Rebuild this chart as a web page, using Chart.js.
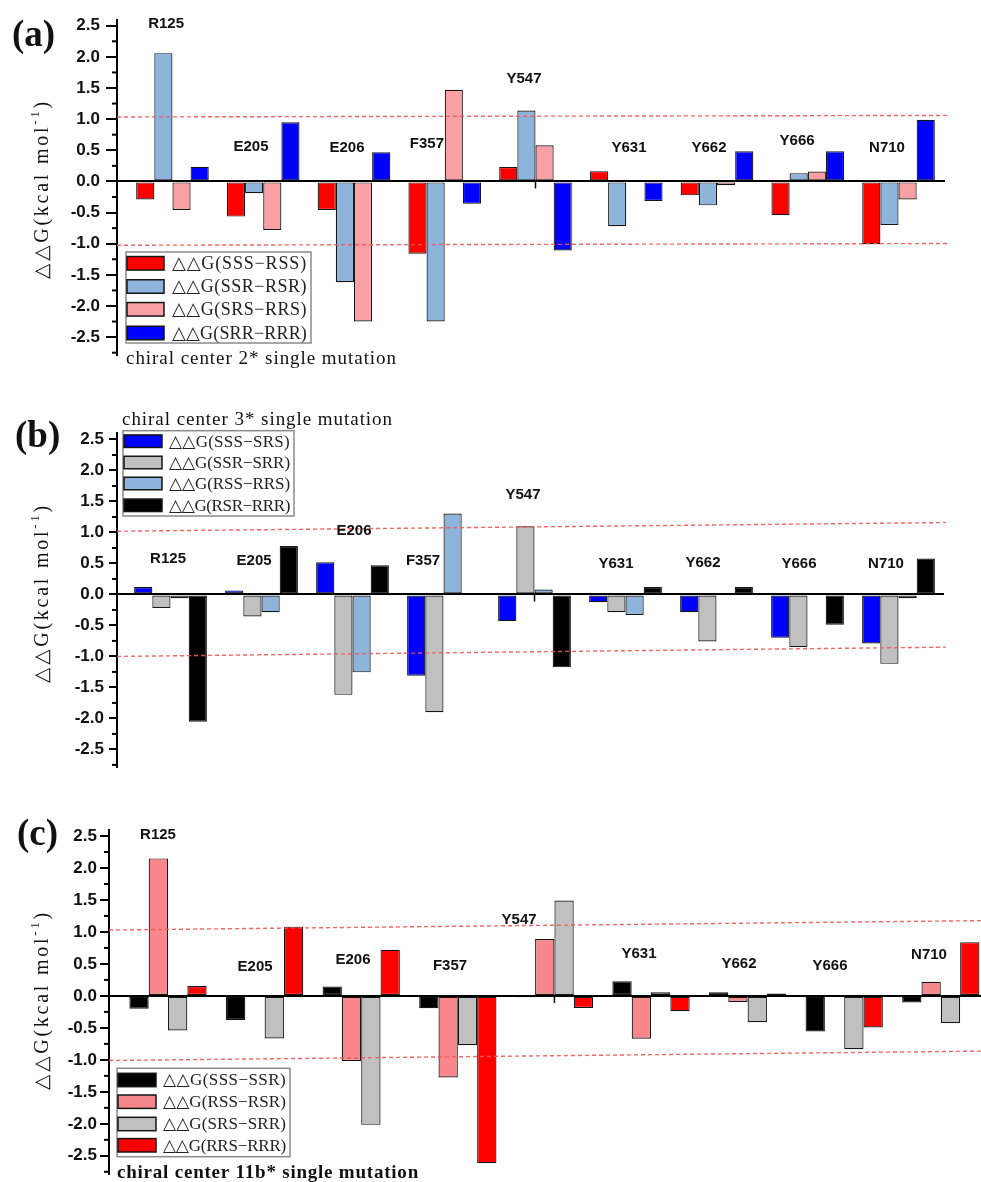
<!DOCTYPE html>
<html><head><meta charset="utf-8">
<script src="https://cdn.jsdelivr.net/npm/chart.js@4/dist/chart.umd.min.js"></script>
<style>
html,body{margin:0;padding:0;width:981px;height:1182px;overflow:hidden;background:#fff;}
canvas{position:absolute;left:0;}
</style></head><body>
<canvas id="ca" width="981" height="372" style="top:0px"></canvas>
<canvas id="cb" width="981" height="420" style="top:370px"></canvas>
<canvas id="cc" width="1000" height="420" style="top:770px"></canvas>
<script>
// ---------- data ----------
const residues = ['R125','E205','E206','F357','Y547','Y631','Y662','Y666','N710'];
const yTicks = [-2.5,-2.0,-1.5,-1.0,-0.5,0.0,0.5,1.0,1.5,2.0,2.5];

// panel (a): chiral center 2*
const namesA = ['△△G(SSS−RSS)','△△G(SSR−RSR)','△△G(SRS−RRS)','△△G(SRR−RRR)'];
const a_SSS_RSS = [-0.29, -0.565, -0.46, -1.16, 0.23, 0.165, -0.224, -0.544, -1.01];
const a_SSR_RSR = [2.06, -0.19, -1.62, -2.25, 1.14, -0.72, -0.384, 0.133, -0.70];
const a_SRS_RRS = [-0.46, -0.78, -2.25, 1.47, 0.58, 0.0, -0.06, 0.16, -0.29];
const a_SRR_RRR = [0.235, 0.95, 0.47, -0.36, -1.11, -0.315, 0.485, 0.485, 0.99];
const a_thresholds = [[1.035, 1.06], [-1.025, -0.997]];
const a_labelY = [2.53, 0.56, 0.54, 0.61, 1.65, 0.545, 0.545, 0.655, 0.545];
const a_labelDx = [-0.07, -0.135, -0.077, -0.196, -0.127, 0.03, -0.088, -0.118, -0.127];

// panel (b): chiral center 3*
const namesB = ['△△G(SSS−SRS)','△△G(SSR−SRR)','△△G(RSS−RRS)','△△G(RSR−RRR)'];
const b_SSS_SRS = [0.12, 0.065, 0.52, -1.31, -0.43, -0.124, -0.286, -0.70, -0.79];
const b_SSR_SRR = [-0.22, -0.356, -1.62, -1.90, 1.10, -0.286, -0.76, -0.85, -1.12];
const b_RSS_RRS = [-0.06, -0.286, -1.257, 1.306, 0.08, -0.33, 0.0, 0.0, -0.06];
const b_RSR_RRR = [-2.055, 0.78, 0.47, 0.0, -1.176, 0.12, 0.12, -0.49, 0.58];
const b_thresholds = [[1.02, 1.16], [-1.0, -0.85]];
const b_labelY = [0.58, 0.54, 1.02, 0.55, 1.6, 0.5, 0.51, 0.5, 0.5];
const b_labelDx = [-0.027, -0.082, 0.016, -0.225, -0.126, -0.104, -0.148, -0.093, -0.137];

// panel (c): chiral center 11b*
const namesC = ['△△G(SSS−SSR)','△△G(RSS−RSR)','△△G(SRS−SRR)','△△G(RRS−RRR)'];
const c_SSS_SSR = [-0.2, -0.375, 0.146, -0.193, -0.02, 0.23, 0.057, -0.557, -0.104];
const c_RSS_RSR = [2.15, 0.0, -1.016, -1.276, 0.89, -0.67, -0.094, 0.0, 0.22];
const c_SRS_SRR = [-0.54, -0.667, -2.016, -0.77, 1.49, 0.057, -0.41, -0.833, -0.427];
const c_RRS_RRR = [0.156, 1.083, 0.72, -2.615, -0.1875, -0.24, 0.036, -0.495, 0.84];
const c_thresholds = [[1.03, 1.18], [-1.01, -0.86]];
const c_labelY = [2.52, 0.46, 0.57, 0.47, 1.19, 0.65, 0.495, 0.47, 0.635];
const c_labelDx = [-0.104, -0.099, -0.085, -0.081, -0.366, -0.124, -0.089, -0.147, -0.122];

const yTitleMain = '△△G(kcal mol';
const yTitleSup = '-1';
const yTitleEnd = ')';

// ---------- styles ----------
const RED = '#FF0000', LBLUE = '#8FB4DC', PINK_A = '#F9A0A4', BLUE = '#0000FF',
      GRAY = '#C0C0C0', BLACK = '#000000', PINK_C = '#F7878B';
const SERIF = '"Liberation Serif","DejaVu Sans",serif';
const SANS = '"Liberation Sans",Arial,sans-serif';

function drawFit(ctx, text, x, y, target, font, color) {
  ctx.save();
  ctx.font = font;
  ctx.letterSpacing = '0px';
  const w = ctx.measureText(text).width;
  const n = [...text].length;
  const sp = Math.max(-1, (target - w) / n);
  ctx.letterSpacing = sp.toFixed(2) + 'px';
  ctx.textAlign = 'left'; ctx.textBaseline = 'middle';
  ctx.fillStyle = color || '#111';
  ctx.fillText(text, x, y);
  ctx.restore();
}

function drawYTitle(ctx, cx, cy, len) {
  ctx.save();
  ctx.translate(cx, cy); ctx.rotate(-Math.PI / 2);
  const fMain = '20px ' + SERIF, fSup = '13px ' + SERIF;
  const parts = [[yTitleMain, fMain, 0], [yTitleSup, fSup, -7], [yTitleEnd, fMain, 0]];
  ctx.letterSpacing = '0px';
  let w = 0, n = 0;
  parts.forEach(p => { ctx.font = p[1]; p.push(ctx.measureText(p[0]).width); w += p[3]; n += [...p[0]].length; });
  const sp = (len - w) / n;
  ctx.letterSpacing = sp.toFixed(2) + 'px';
  ctx.textAlign = 'left'; ctx.textBaseline = 'middle'; ctx.fillStyle = '#111';
  let xx = -len / 2;
  parts.forEach(p => { ctx.font = p[1]; ctx.fillText(p[0], xx, p[2]); xx += p[3] + sp * [...p[0]].length; });
  ctx.restore();
}

function makePlugin(o) {
  return {
    id: 'annot' + o.id,
    afterDatasetsDraw(chart) {
      const {ctx, chartArea, scales: {x, y}} = chart;
      // dashed reference lines
      ctx.save();
      ctx.strokeStyle = 'rgba(240,85,85,0.9)'; ctx.lineWidth = 1.4; ctx.setLineDash([4, 3]);
      o.thresholds.forEach(([v0, v1]) => {
        ctx.beginPath();
        ctx.moveTo(chartArea.left, y.getPixelForValue(v0));
        ctx.lineTo(chartArea.right + o.dashExtra, y.getPixelForValue(v1));
        ctx.stroke();
      });
      ctx.restore();
      // small tick on zero line
      ctx.save();
      ctx.strokeStyle = '#000'; ctx.lineWidth = 1.5;
      const tx = x.getPixelForValue(4), ty = y.getPixelForValue(0);
      ctx.beginPath(); ctx.moveTo(tx, ty); ctx.lineTo(tx, ty + 7); ctx.stroke();
      ctx.restore();
    },
    afterDraw(chart) {
      const {ctx, chartArea, scales: {x, y}} = chart;
      // minor ticks
      ctx.save();
      ctx.strokeStyle = '#000'; ctx.lineWidth = 2;
      const minor = [yTicks[0] - 0.25].concat(yTicks.slice(0, -1).map((v, i) => (v + yTicks[i + 1]) / 2));
      minor.forEach(v => {
        if (v < y.min || v > y.max) return;
        const py = y.getPixelForValue(v);
        ctx.beginPath(); ctx.moveTo(chartArea.left - 5, py); ctx.lineTo(chartArea.left, py); ctx.stroke();
      });
      ctx.restore();
      // category labels
      ctx.save();
      ctx.font = 'bold 15px ' + SANS; ctx.fillStyle = '#111';
      ctx.textAlign = 'center'; ctx.textBaseline = 'middle';
      residues.forEach((r, i) => {
        ctx.fillText(r, x.getPixelForValue(i + o.labelDx[i]), y.getPixelForValue(o.labelY[i]));
      });
      ctx.restore();
      // legend
      const L = o.legend;
      ctx.save();
      ctx.fillStyle = '#fff';
      ctx.fillRect(L.box[0], L.box[1], L.box[2] - L.box[0], L.box[3] - L.box[1]);
      ctx.strokeStyle = '#8a8a8a'; ctx.lineWidth = 1.5;
      ctx.strokeRect(L.box[0], L.box[1], L.box[2] - L.box[0], L.box[3] - L.box[1]);
      chart.data.datasets.forEach((ds, i) => {
        const cy = L.rows[i];
        ctx.fillStyle = ds.backgroundColor;
        ctx.fillRect(L.sx[0], cy - L.sh / 2, L.sx[1] - L.sx[0], L.sh);
        ctx.strokeStyle = '#151515'; ctx.lineWidth = 1.5;
        ctx.strokeRect(L.sx[0], cy - L.sh / 2, L.sx[1] - L.sx[0], L.sh);
        drawFit(ctx, ds.label, L.tx, cy + 1, L.tw, L.font, '#222');
      });
      ctx.restore();
      // sub title
      const T = o.title;
      drawFit(ctx, T.text, T.x, T.y, T.w, (T.bold ? 'bold ' : '') + '19px ' + SERIF, '#111');
      // y title
      drawYTitle(ctx, o.yTitle.cx, o.yTitle.cy, o.yTitle.len);
      // panel letter
      ctx.save();
      ctx.font = 'bold 37px ' + SERIF; ctx.fillStyle = '#111';
      ctx.textAlign = 'left'; ctx.textBaseline = 'alphabetic';
      ctx.fillText(o.panel.text, o.panel.x, o.panel.y);
      ctx.restore();
    }
  };
}

function build(canvasId, o) {
  return new Chart(document.getElementById(canvasId), {
    type: 'bar',
    data: {
      labels: residues.map((_, i) => i),
      datasets: o.series.map((s, i) => ({
        label: o.names[i], data: s, backgroundColor: o.colors[i],
        borderColor: '#151515', borderWidth: 1.2, borderSkipped: false,
        categoryPercentage: 0.8, barPercentage: 1.0, inflateAmount: 0
      }))
    },
    options: {
      responsive: false, animation: false, devicePixelRatio: 1, events: [],
      layout: {padding: o.padding},
      plugins: {legend: {display: false}, tooltip: {enabled: false}, title: {display: false}},
      scales: {
        x: {
          type: 'linear', min: o.xMin, max: o.xMax, display: false,
          offset: false, grid: {offset: false},
          ticks: {stepSize: 1, includeBounds: false},
          afterBuildTicks: s => { s.ticks = residues.map((_, i) => ({value: i})); }
        },
        y: {
          min: -2.8, max: 2.6,
          afterBuildTicks: s => { s.ticks = yTicks.map(v => ({value: v})); },
          afterFit: s => { s.width = o.axisX; },
          ticks: {
            autoSkip: false, padding: o.tickPad, color: '#111',
            font: {family: SANS, weight: 'bold', size: 17},
            callback: v => Number(v).toFixed(1)
          },
          grid: {
            drawOnChartArea: true, drawTicks: true, tickLength: o.tickLen,
            color: c => (c.tick && c.tick.value === 0) ? '#000' : 'rgba(0,0,0,0)',
            lineWidth: c => (c.tick && c.tick.value === 0) ? 2 : 0,
            tickColor: '#000', tickWidth: 2
          },
          border: {display: true, color: '#000', width: 2}
        }
      }
    },
    plugins: [makePlugin(o)]
  });
}

build('ca', {
  id: 'a', names: namesA, series: [a_SSS_RSS, a_SSR_RSR, a_SRS_RRS, a_SRR_RRR],
  colors: [RED, LBLUE, PINK_A, BLUE],
  padding: {left: 0, top: 19.5, right: 36, bottom: 15},
  axisX: 117, xMin: -0.611, xMax: 8.512, tickLen: 11, tickPad: 6, dashExtra: 5,
  thresholds: a_thresholds, labelY: a_labelY, labelDx: a_labelDx,
  legend: {box: [126, 252, 311, 343], sx: [127, 164], sh: 13.5, rows: [263.3, 286.5, 309.3, 333], tx: 172, tw: 135, font: '18px ' + SERIF},
  title: {text: 'chiral center 2* single mutation', x: 126, y: 359, w: 271, bold: false},
  yTitle: {cx: 43, cy: 189, len: 180},
  panel: {text: '(a)', x: 12, y: 45.5}
});

build('cb', {
  id: 'b', names: namesB, series: [b_SSS_SRS, b_SSR_SRR, b_RSS_RRS, b_RSR_RRR],
  colors: [BLUE, GRAY, LBLUE, BLACK],
  padding: {left: 0, top: 63.3, right: 37, bottom: 22},
  axisX: 117, xMin: -0.588, xMax: 8.5, tickLen: 8, tickPad: 5, dashExtra: 2,
  thresholds: b_thresholds, labelY: b_labelY, labelDx: b_labelDx,
  legend: {box: [123, 60.7, 294, 146], sx: [124, 162], sh: 12.5, rows: [71.2, 92.5, 113.5, 135.3], tx: 169, tw: 121, font: '17px ' + SERIF},
  title: {text: 'chiral center 3* single mutation', x: 122, y: 50, w: 271, bold: false},
  yTitle: {cx: 43, cy: 223, len: 180},
  panel: {text: '(b)', x: 15, y: 76.5}
});

build('cc', {
  id: 'c', names: namesC, series: [c_SSS_SSR, c_RSS_RSR, c_SRS_SRR, c_RRS_RRR],
  colors: [BLACK, PINK_C, GRAY, RED],
  padding: {left: 0, top: 59.6, right: 5, bottom: 15},
  axisX: 109, xMin: -0.611, xMax: 8.561, tickLen: 9, tickPad: 3, dashExtra: 5,
  thresholds: c_thresholds, labelY: c_labelY, labelDx: c_labelDx,
  legend: {box: [117, 298.3, 290, 386.7], sx: [118, 156], sh: 13.4, rows: [310, 331.7, 354, 375.3], tx: 163, tw: 123, font: '17px ' + SERIF},
  title: {text: 'chiral center 11b* single mutation', x: 117, y: 403, w: 302, bold: true},
  yTitle: {cx: 43, cy: 230, len: 180},
  panel: {text: '(c)', x: 17, y: 75.2}
});
</script>
</body></html>
